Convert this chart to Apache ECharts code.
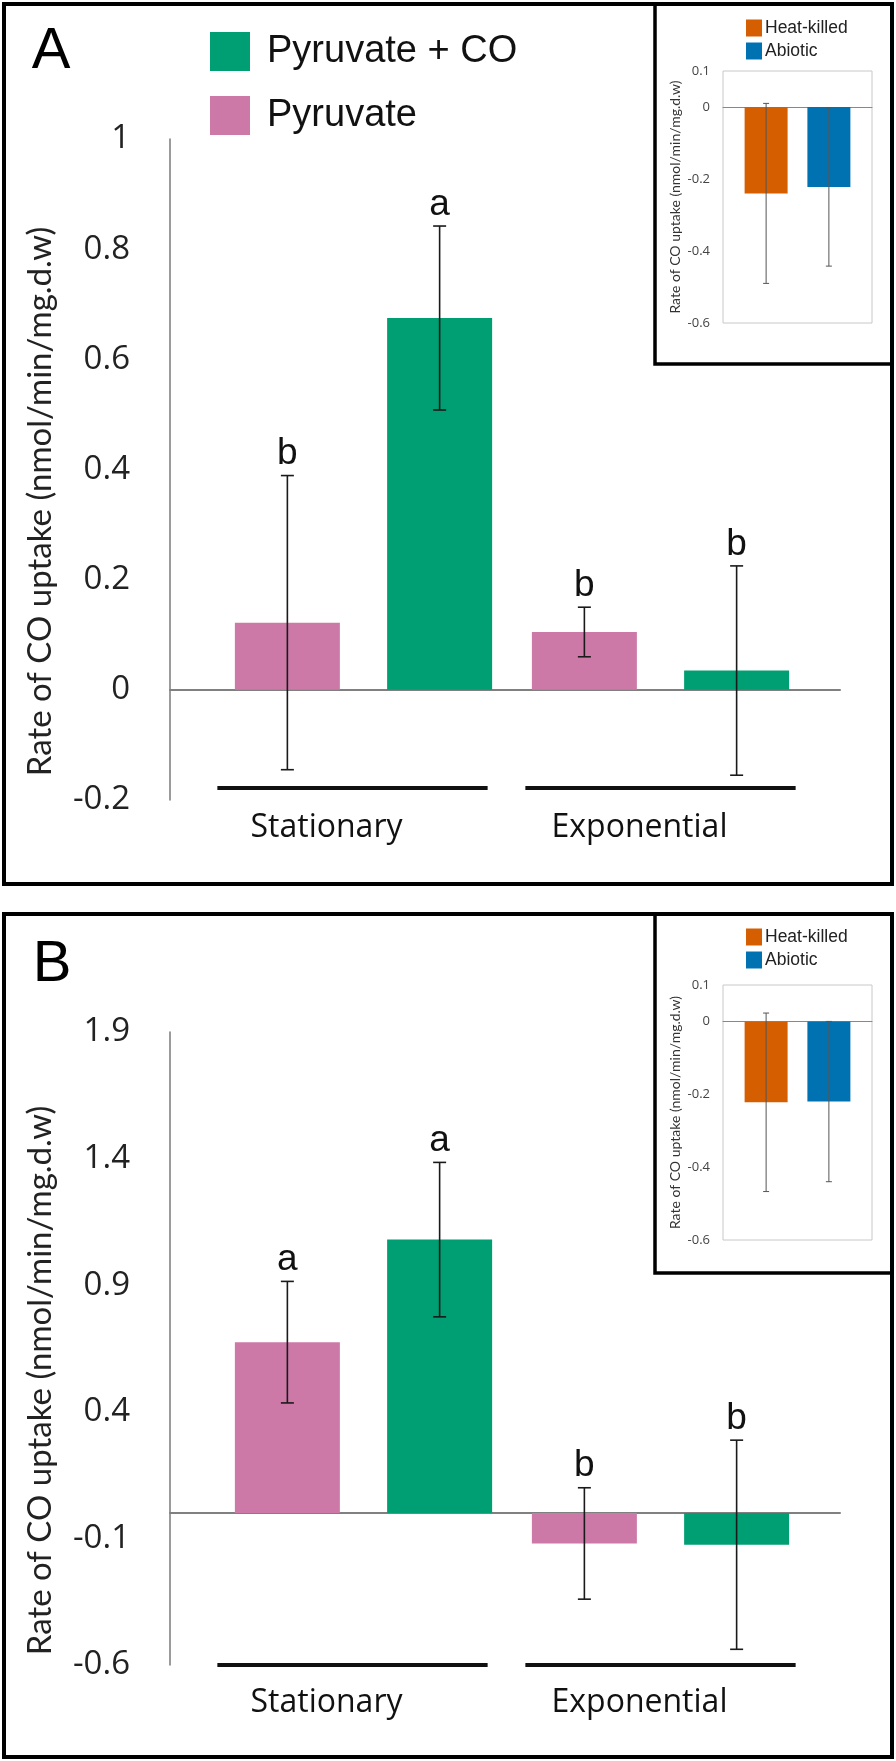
<!DOCTYPE html>
<html>
<head>
<meta charset="utf-8">
<script src="https://cdn.jsdelivr.net/npm/echarts@6/dist/echarts.min.js"></script>
<style>
  html, body { margin: 0; padding: 0; background: #fff; }
  #chart { width: 896px; height: 1761px; }
</style>
</head>
<body>
<div id="chart"></div>
<script>
// --- data ---
const groups = ['Stationary', 'Exponential'];
const ticksA = [-0.2, 0, 0.2, 0.4, 0.6, 0.8, 1];
const ticksB = [-0.6, -0.1, 0.4, 0.9, 1.4, 1.9];
const ticksInset = [-0.6, -0.4, -0.2, 0, 0.1];

// panel A
const pyruvateA = [0.122, 0.105];
const pyruvateErrA = [0.267, 0.045];
const pyruvateCoA = [0.675, 0.035];
const pyruvateCoErrA = [0.167, 0.19];
const lettersPyruvateA = ['b', 'b'];
const lettersPyruvateCoA = ['a', 'b'];

// panel B
const pyruvateB = [0.675, -0.12];
const pyruvateErrB = [0.24, 0.22];
const pyruvateCoB = [1.08, -0.125];
const pyruvateCoErrB = [0.305, 0.413];
const lettersPyruvateB = ['a', 'b'];
const lettersPyruvateCoB = ['a', 'b'];

// insets (controls)
const heatKilledA = [-0.24];
const heatKilledErrA = [0.25];
const abioticA = [-0.222];
const abioticErrA = [0.22];
const heatKilledB = [-0.222];
const heatKilledErrB = [0.245];
const abioticB = [-0.22];
const abioticErrB = [0.22];

const PINK = '#CC79A7', GREEN = '#009E73', ORANGE = '#D55E00', BLUE = '#0072B2';
const CAL = 'Lato';          // stand-in for Calibri
const SANS = 'Open Sans';
const ARIAL = 'Liberation Sans';
const yTitle = 'Rate of CO uptake (nmol/min/mg.d.w)';

const BAR_W = 105, BAR_GAP = 0.45;
const INSET_W = 43, INSET_GAP = 0.46;

function errData(vals, errs) {
    return vals.map((v, i) => [i, v - errs[i], v + errs[i]]);
}

// error bar (+ optional significance letter) drawn on top of one bar series
function errSeries(xi, yi, vals, errs, side, barW, gap, opts) {
    const off = side * barW * (1 + gap) / 2;
    return {
        type: 'custom',
        xAxisIndex: xi, yAxisIndex: yi,
        z: 5,
        silent: true,
        data: errData(vals, errs),
        renderItem: function (params, api) {
            const i = api.value(0);
            const lo = api.coord([i, api.value(1)]);
            const hi = api.coord([i, api.value(2)]);
            const x = lo[0] + off;
            const st = { stroke: opts.color, lineWidth: opts.lineWidth };
            const kids = [
                { type: 'line', shape: { x1: x, y1: hi[1], x2: x, y2: lo[1] }, style: st },
                { type: 'line', shape: { x1: x - opts.cap, y1: hi[1], x2: x + opts.cap, y2: hi[1] }, style: st },
                { type: 'line', shape: { x1: x - opts.cap, y1: lo[1], x2: x + opts.cap, y2: lo[1] }, style: st }
            ];
            if (opts.letters) {
                kids.push({
                    type: 'text',
                    style: {
                        text: opts.letters[i], x: x, y: hi[1] - 3,
                        align: 'center', verticalAlign: 'bottom',
                        font: '37px "' + ARIAL + '"', fill: '#111'
                    }
                });
            }
            return { type: 'group', children: kids };
        }
    };
}

// thick black line under each growth-phase group
const underlineShift = [-11, 0];
function groupLineSeries(xi, yi, yMin, dy) {
    return {
        type: 'custom',
        xAxisIndex: xi, yAxisIndex: yi,
        silent: true,
        data: groups.map((g, i) => [i, yMin]),
        renderItem: function (params, api) {
            const i = api.value(0);
            const p = api.coord([i, api.value(1)]);
            const w = api.size([1, 0])[0] * 0.91;
            const cx = p[0] + underlineShift[i];
            return {
                type: 'line',
                shape: { x1: cx - w / 2, y1: p[1] + dy, x2: cx + w / 2, y2: p[1] + dy },
                style: { stroke: '#111', lineWidth: 4 }
            };
        }
    };
}

function groupAxis(grid, margin) {
    return {
        type: 'category', gridIndex: grid, data: groups, position: 'bottom',
        axisLine: { show: false }, axisTick: { show: false },
        axisLabel: {
            interval: 0, hideOverlap: false,
            margin: margin, fontFamily: SANS, fontSize: 32, color: '#111',
            formatter: (v, i) => '{g' + i + '|' + v + '}',
            rich: { g0: { padding: [0, 74, 0, 0] }, g1: { padding: [0, 42, 0, 0] } }
        }
    };
}
function zeroAxis(grid, yIdx, color, width) {
    return {
        type: 'category', gridIndex: grid, data: [''],
        axisLine: { show: true, onZero: true, onZeroAxisIndex: yIdx, lineStyle: { color: color, width: width } },
        axisTick: { show: false }, axisLabel: { show: false }
    };
}
function hiddenY(grid, min, max) {
    return { type: 'value', gridIndex: grid, min: min, max: max, show: false, splitLine: { show: false } };
}
function mainY(grid, min, max, ticks) {
    return {
        type: 'value', gridIndex: grid, min: min, max: max,
        axisLine: { show: true, lineStyle: { color: '#7a7a7a', width: 1.5 } },
        axisTick: { show: false },
        splitLine: { show: false },
        axisLabel: { customValues: ticks, margin: 40, fontFamily: SANS, fontSize: 33, color: '#222' },
        name: yTitle, nameLocation: 'middle', nameGap: 113,
        nameTextStyle: { fontFamily: CAL, fontSize: 33, color: '#222', padding: [0, 64, 0, 0] }
    };
}
function insetY(grid) {
    return {
        type: 'value', gridIndex: grid, min: -0.6, max: 0.1,
        axisLine: { show: false }, axisTick: { show: false }, splitLine: { show: false },
        axisLabel: { customValues: ticksInset, margin: 13, fontFamily: SANS, fontSize: 13, color: '#444' },
        name: yTitle, nameLocation: 'middle', nameGap: 41,
        nameTextStyle: { fontFamily: CAL, fontSize: 14, color: '#333' }
    };
}
function barSeries(name, xi, yi, data, color, w, gap) {
    return {
        name: name, type: 'bar', xAxisIndex: xi, yAxisIndex: yi, data: data,
        barWidth: w, barGap: (gap * 100) + '%',
        itemStyle: { color: color }, silent: true
    };
}

const mainErr = { color: '#1a1a1a', lineWidth: 1.6, cap: 6.5 };
const insetErr = { color: '#555', lineWidth: 1, cap: 3 };

const chart = echarts.init(document.getElementById('chart'));
chart.setOption({
    animation: false,
    backgroundColor: '#fff',
    grid: [
        { left: 215, right: 87, top: 139, bottom: 961 },
        { left: 170, right: 56, top: 139, bottom: 961 },
        { left: 723, right: 24, top: 71, bottom: 1438, show: true, borderColor: '#c8c8c8', borderWidth: 1 },
        { left: 215, right: 87, top: 1032, bottom: 96 },
        { left: 170, right: 56, top: 1032, bottom: 96 },
        { left: 723, right: 24, top: 985, bottom: 521, show: true, borderColor: '#c8c8c8', borderWidth: 1 }
    ],
    xAxis: [
        groupAxis(0, 12),
        zeroAxis(1, 1, '#808080', 2),
        zeroAxis(2, 2, '#888', 1),
        groupAxis(3, 22),
        zeroAxis(4, 4, '#808080', 2),
        zeroAxis(5, 5, '#888', 1)
    ],
    yAxis: [
        hiddenY(0, -0.2, 1),
        mainY(1, -0.2, 1, ticksA),
        insetY(2),
        hiddenY(3, -0.6, 1.9),
        mainY(4, -0.6, 1.9, ticksB),
        insetY(5)
    ],
    legend: [
        {
            data: ['Pyruvate + CO', 'Pyruvate'], orient: 'vertical', left: 210, top: 32, padding: 0,
            itemWidth: 40, itemHeight: 39, itemGap: 25, icon: 'rect', selectedMode: false,
            textStyle: { fontFamily: ARIAL, fontSize: 38, color: '#111', padding: [0, 0, 0, 12] }
        },
        {
            data: ['Heat-killed', 'Abiotic'], orient: 'vertical', left: 746, top: 19, padding: 0,
            itemWidth: 16, itemHeight: 17, itemGap: 5, icon: 'rect', selectedMode: false,
            textStyle: { fontFamily: ARIAL, fontSize: 17.5, color: '#222', padding: [0, 0, 0, -2] }
        },
        {
            data: ['Heat-killed', 'Abiotic'], orient: 'vertical', left: 746, top: 928, padding: 0,
            itemWidth: 16, itemHeight: 17, itemGap: 5, icon: 'rect', selectedMode: false,
            textStyle: { fontFamily: ARIAL, fontSize: 17.5, color: '#222', padding: [0, 0, 0, -2] }
        }
    ],
    graphic: [
        { type: 'rect', shape: { x: 4, y: 4, width: 888, height: 880 }, style: { fill: 'none', stroke: '#000', lineWidth: 4 } },
        { type: 'rect', shape: { x: 655, y: 4, width: 237, height: 360 }, style: { fill: 'none', stroke: '#000', lineWidth: 3.5 } },
        { type: 'rect', shape: { x: 4, y: 914, width: 888, height: 843 }, style: { fill: 'none', stroke: '#000', lineWidth: 4 } },
        { type: 'rect', shape: { x: 655, y: 914, width: 237, height: 359 }, style: { fill: 'none', stroke: '#000', lineWidth: 3.5 } },
        { type: 'text', style: { text: 'A', x: 51, y: 52, align: 'center', verticalAlign: 'middle', font: '58px "' + ARIAL + '"', fill: '#000' } },
        { type: 'text', style: { text: 'B', x: 52, y: 965, align: 'center', verticalAlign: 'middle', font: '58px "' + ARIAL + '"', fill: '#000' } }
    ],
    series: [
        // panel A
        barSeries('Pyruvate', 0, 0, pyruvateA, PINK, BAR_W, BAR_GAP),
        barSeries('Pyruvate + CO', 0, 0, pyruvateCoA, GREEN, BAR_W, BAR_GAP),
        errSeries(0, 0, pyruvateA, pyruvateErrA, -1, BAR_W, BAR_GAP, Object.assign({ letters: lettersPyruvateA }, mainErr)),
        errSeries(0, 0, pyruvateCoA, pyruvateCoErrA, 1, BAR_W, BAR_GAP, Object.assign({ letters: lettersPyruvateCoA }, mainErr)),
        groupLineSeries(0, 0, -0.2, -12),
        barSeries('Heat-killed', 2, 2, heatKilledA, ORANGE, INSET_W, INSET_GAP),
        barSeries('Abiotic', 2, 2, abioticA, BLUE, INSET_W, INSET_GAP),
        errSeries(2, 2, heatKilledA, heatKilledErrA, -1, INSET_W, INSET_GAP, insetErr),
        errSeries(2, 2, abioticA, abioticErrA, 1, INSET_W, INSET_GAP, insetErr),
        // panel B
        barSeries('Pyruvate', 3, 3, pyruvateB, PINK, BAR_W, BAR_GAP),
        barSeries('Pyruvate + CO', 3, 3, pyruvateCoB, GREEN, BAR_W, BAR_GAP),
        errSeries(3, 3, pyruvateB, pyruvateErrB, -1, BAR_W, BAR_GAP, Object.assign({ letters: lettersPyruvateB }, mainErr)),
        errSeries(3, 3, pyruvateCoB, pyruvateCoErrB, 1, BAR_W, BAR_GAP, Object.assign({ letters: lettersPyruvateCoB }, mainErr)),
        groupLineSeries(3, 3, -0.6, 0),
        barSeries('Heat-killed', 5, 5, heatKilledB, ORANGE, INSET_W, INSET_GAP),
        barSeries('Abiotic', 5, 5, abioticB, BLUE, INSET_W, INSET_GAP),
        errSeries(5, 5, heatKilledB, heatKilledErrB, -1, INSET_W, INSET_GAP, insetErr),
        errSeries(5, 5, abioticB, abioticErrB, 1, INSET_W, INSET_GAP, insetErr)
    ]
});
window.addEventListener('resize', function () { chart.resize(); });
</script>
</body>
</html>
